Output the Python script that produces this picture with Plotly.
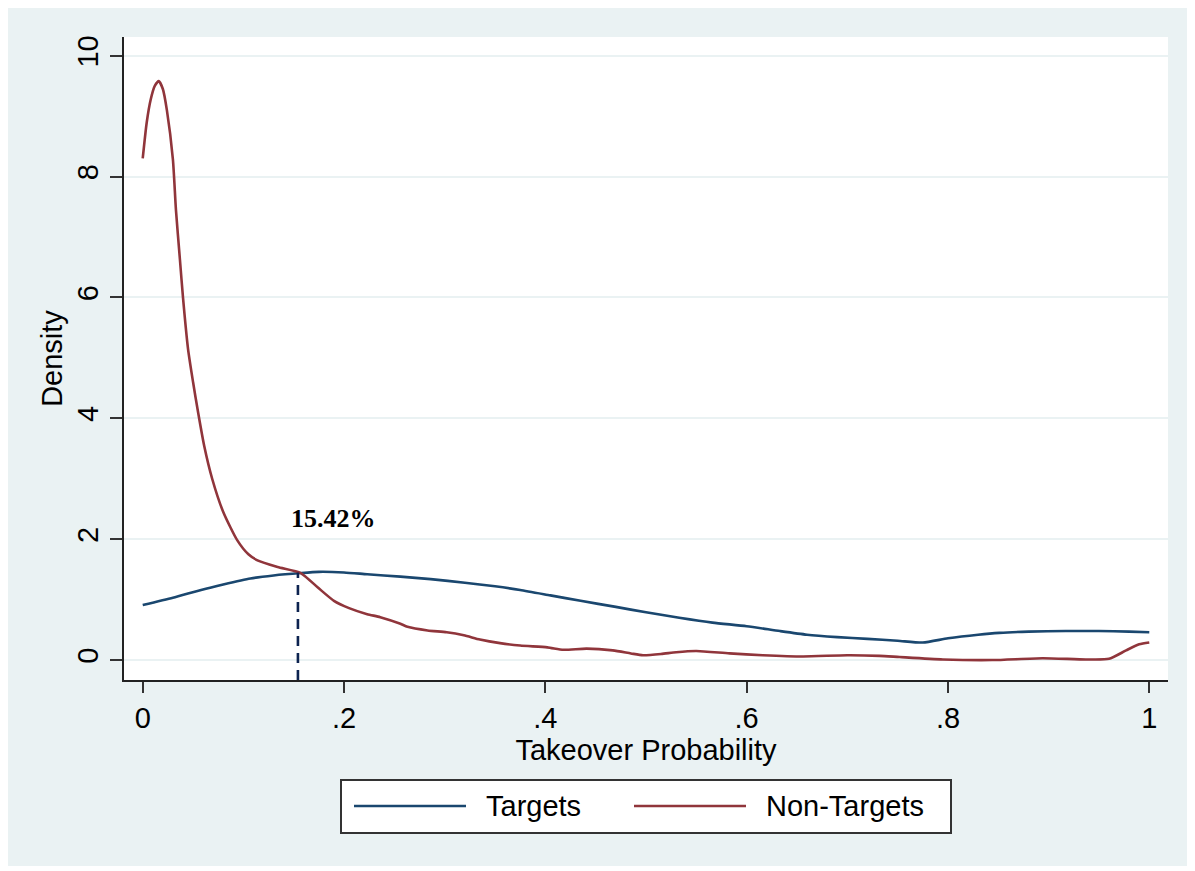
import plotly.graph_objects as go

# ---------------- data ----------------
targets_x = [0.000, 0.030, 0.058, 0.080, 0.107, 0.130, 0.157, 0.175, 0.200, 0.223,
             0.256, 0.286, 0.320, 0.350, 0.375, 0.405, 0.435, 0.470, 0.500, 0.533,
             0.566, 0.600, 0.633, 0.660, 0.690, 0.720, 0.750, 0.775, 0.800, 0.830,
             0.851, 0.880, 0.917, 0.950, 0.980, 1.000]
targets_y = [0.91, 1.03, 1.16, 1.25, 1.35, 1.40, 1.44, 1.46, 1.45, 1.42,
             1.38, 1.34, 1.28, 1.22, 1.16, 1.07, 0.98, 0.88, 0.79, 0.70,
             0.62, 0.56, 0.48, 0.42, 0.38, 0.35, 0.32, 0.29, 0.36, 0.42,
             0.45, 0.47, 0.48, 0.48, 0.47, 0.46]

nontargets_x = [0.000, 0.004, 0.008, 0.012, 0.016, 0.020, 0.024, 0.030, 0.033, 0.037,
                0.040, 0.045, 0.050, 0.055, 0.061, 0.069, 0.080, 0.094, 0.105, 0.114,
                0.134, 0.157, 0.174, 0.190, 0.205, 0.223, 0.236, 0.256, 0.263, 0.283,
                0.302, 0.319, 0.335, 0.355, 0.375, 0.402, 0.418, 0.441, 0.467, 0.485,
                0.497, 0.515, 0.530, 0.550, 0.583, 0.616, 0.656, 0.700, 0.732, 0.752,
                0.795, 0.844, 0.894, 0.937, 0.960, 0.977, 0.990, 1.000]
nontargets_y = [8.30, 8.90, 9.28, 9.50, 9.58, 9.45, 9.10, 8.28, 7.45, 6.62,
                6.00, 5.15, 4.60, 4.10, 3.55, 3.00, 2.45, 1.98, 1.75, 1.65,
                1.54, 1.44, 1.20, 0.98, 0.86, 0.76, 0.71, 0.60, 0.55, 0.49,
                0.46, 0.41, 0.34, 0.28, 0.24, 0.21, 0.17, 0.19, 0.16, 0.11,
                0.08, 0.10, 0.13, 0.15, 0.11, 0.08, 0.06, 0.08, 0.07, 0.05,
                0.01, 0.00, 0.03, 0.01, 0.02, 0.16, 0.26, 0.29]

cross_x = 0.1542
cross_y = 1.45
cross_label = "15.42%"

x_tickvals = [0, 0.2, 0.4, 0.6, 0.8, 1]
x_ticktext = ["0", ".2", ".4", ".6", ".8", "1"]
y_tickvals = [0, 2, 4, 6, 8, 10]
y_ticktext = ["0", "2", "4", "6", "8", "10"]

series_names = ["Targets", "Non-Targets"]

# ---------------- style ----------------
BLUE = "#1a476f"
RED = "#90353b"
BG = "#eaf2f3"
FONT = "Liberation Sans"
OFF = 8  # default page margin of the html body
W, H = 1182, 858
ML, MR, MT, MB = 116, 22, 29, 186
PW, PH = W - ML - MR, H - MT - MB
X_RANGE = [-0.0186, 1.0186]
Y_RANGE = [-0.33, 10.31]


def px(xs):
    """screen pixel x -> paper coordinate"""
    return (xs - OFF - ML) / PW


def py(ys):
    """screen pixel y -> paper coordinate"""
    return (H - MB - (ys - OFF)) / PH


fig = go.Figure()
fig.add_trace(go.Scatter(x=targets_x, y=targets_y, mode="lines", name=series_names[0],
                         line=dict(color=BLUE, width=2.6, shape="spline", smoothing=0.6),
                         showlegend=False))
fig.add_trace(go.Scatter(x=nontargets_x, y=nontargets_y, mode="lines", name=series_names[1],
                         line=dict(color=RED, width=2.6, shape="spline", smoothing=0.6),
                         showlegend=False))
fig.add_trace(go.Scatter(x=[cross_x, cross_x], y=[Y_RANGE[0], cross_y], mode="lines",
                         line=dict(color="#0d2350", width=2.6, dash="10px,7px"),
                         showlegend=False, hoverinfo="skip"))

fig.add_annotation(x=cross_x + 0.035, y=2.35, text="<b>" + cross_label + "</b>",
                   showarrow=False, font=dict(family="Liberation Serif", size=26, color="black"))

shapes = []
# legend box
shapes.append(dict(type="rect", xref="paper", yref="paper",
                   x0=px(341), x1=px(951), y0=py(833), y1=py(780),
                   line=dict(color="#333333", width=2), fillcolor="white"))
shapes.append(dict(type="line", xref="paper", yref="paper",
                   x0=px(354), x1=px(466), y0=py(806), y1=py(806),
                   line=dict(color=BLUE, width=2.6)))
shapes.append(dict(type="line", xref="paper", yref="paper",
                   x0=px(634), x1=px(746), y0=py(806), y1=py(806),
                   line=dict(color=RED, width=2.6)))
fig.update_layout(shapes=shapes)

fig.add_annotation(xref="paper", yref="paper", x=px(484), y=py(806), xanchor="left",
                   yanchor="middle", text=series_names[0], showarrow=False,
                   font=dict(family=FONT, size=29, color="black"))
fig.add_annotation(xref="paper", yref="paper", x=px(764), y=py(806), xanchor="left",
                   yanchor="middle", text=series_names[1], showarrow=False,
                   font=dict(family=FONT, size=29, color="black"))

fig.update_layout(
    width=W, height=H,
    margin=dict(l=ML, r=MR, t=MT, b=MB, pad=0),
    paper_bgcolor=BG, plot_bgcolor="white",
    font=dict(family=FONT, size=29, color="black"),
    showlegend=False,
    xaxis=dict(range=X_RANGE, tickvals=x_tickvals, ticktext=x_ticktext,
               showgrid=False, zeroline=False, showline=True, linecolor="#222222",
               linewidth=2, ticks="outside", ticklen=11, tickwidth=2, tickcolor="#333333",
               tickfont=dict(size=29), title=dict(text="Takeover Probability", standoff=0,
                                                  font=dict(size=29)),
               automargin=False, fixedrange=True),
    yaxis=dict(range=Y_RANGE, tickvals=y_tickvals, ticktext=y_ticktext, tickangle=-90,
               showgrid=True, gridcolor=BG, gridwidth=2, zeroline=False, showline=True,
               linecolor="#222222", linewidth=2, ticks="outside", ticklen=12, tickwidth=2,
               tickcolor="#333333", tickfont=dict(size=29),
               title=dict(text="Density", standoff=1, font=dict(size=29)),
               automargin=False, fixedrange=True),
)

fig.write_html("out.html")
